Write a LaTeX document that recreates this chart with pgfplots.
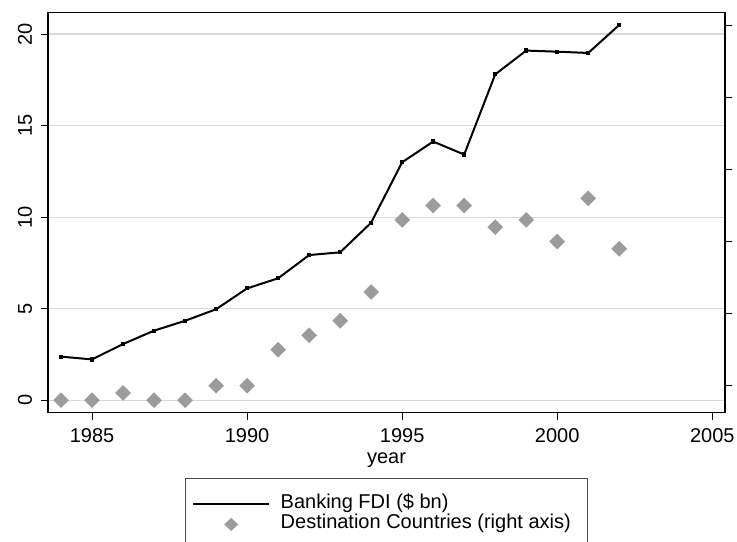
\documentclass[border=0pt]{standalone}
\usepackage{fontspec}
\setmainfont{Liberation Sans}
\usepackage{pgfplots}
\pgfplotsset{compat=1.18}
\definecolor{diam}{RGB}{155,155,155}
\definecolor{gridc}{RGB}{216,216,216}
\begin{document}
\begin{tikzpicture}
\pgfplotsset{
  common/.style={
    scale only axis, width=677pt, height=399.8pt,
    xmin=1983.58, xmax=2005.41,
    tick align=outside,
    /pgf/number format/assume math mode=true,
    tick label style={font=\fontsize{20}{24}\selectfont},
    major tick length=7.5pt,
    every tick/.style={black, line width=1pt},
    axis line style={black, line width=1.2pt},
  }
}
\begin{axis}[common, name=ax,
  ymin=-0.67, ymax=21.17,
  xtick={1985,1990,...,2005}, xtick pos=bottom,
  ytick={0,5,...,20}, ytick pos=left,
  xticklabel style={/pgf/number format/1000 sep={}},
  yticklabel style={rotate=90, anchor=south},
  xticklabel shift=5pt, yticklabel shift=5pt,
  ymajorgrids, major grid style={gridc, line width=1.3pt},
  xlabel={year}, xlabel style={font=\fontsize{20}{24}\selectfont, yshift=-3pt},
  legend style={
    at={(0.5,-0.1646)}, anchor=north,
    draw=black!70, line width=0.8pt,
    font=\fontsize{20}{24}\selectfont,
    inner xsep=6.6pt, inner ysep=15.7pt,
    row sep=0pt, column sep=10.5pt,
    nodes={inner sep=0pt, text height=14pt, text depth=6pt},
  },
  legend cell align=left,
]
\addplot[black, line width=2pt, mark=square*, mark size=1.1pt,
  legend image code/.code={\draw[black,line width=2pt] (0pt,0pt) -- (76pt,0pt);}]
  coordinates {
(1984,2.38) (1985,2.23) (1986,3.07) (1987,3.80) (1988,4.34) (1989,4.97)
(1990,6.11) (1991,6.66) (1992,7.93) (1993,8.08) (1994,9.70) (1995,13.0)
(1996,14.13) (1997,13.42) (1998,17.8) (1999,19.1) (2000,19.04) (2001,18.97)
(2002,20.5)
};
\addlegendentry{Banking FDI (\$ bn)}
\addlegendimage{legend image code/.code={\path[draw=none] (-1pt,0pt) -- (77pt,0pt);
  \fill[diam,draw=none] (38pt,6.5pt) -- (45pt,0pt) -- (38pt,-6.5pt) -- (31pt,0pt) -- cycle;}}
\addlegendentry{Destination Countries (right axis)\kern10pt}
\end{axis}
\begin{axis}[common, ymin=6.29, ymax=61.74,
  axis y line*=right, axis x line=none,
  ytick={10,20,...,60}, yticklabels={}]
\addplot[only marks, mark=square*, mark size=5.3pt,
  mark options={rotate=45, fill=diam, draw=diam}]
  coordinates {
(1984,8) (1985,8) (1986,9) (1987,8) (1988,8) (1989,10) (1990,10)
(1991,15) (1992,17) (1993,19) (1994,23) (1995,33) (1996,35) (1997,35)
(1998,32) (1999,33) (2000,30) (2001,36) (2002,29)
};
\end{axis}
\pgfresetboundingbox
\path[use as bounding box] ([shift={(-48pt,-129.5pt)}]ax.south west) rectangle ([shift={(12pt,12.7pt)}]ax.north east);
\end{tikzpicture}
\end{document}
